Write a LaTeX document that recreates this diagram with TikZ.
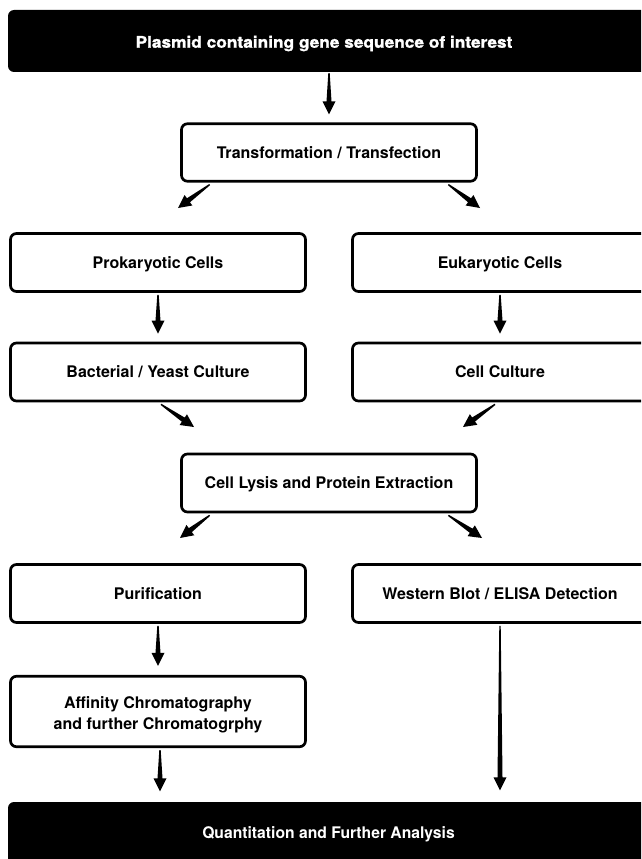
\documentclass[tikz,border=0pt]{standalone}
\usepackage{fontspec}
\usepackage{graphicx}
\setmainfont{TeX Gyre Heros}
\newfontfamily\heavyfont[BoldFeatures={FakeBold=1.3}]{TeX Gyre Heros}
\usetikzlibrary{calc}
\newcommand\tarrow[2]{%
  \path ($(#2)!13pt!(#1)$) coordinate (tmpH);
  \fill ($(#1)!0.7pt!90:(#2)$) -- ($(tmpH)!2.5pt!90:(#2)$) -- ($(tmpH)!6.5pt!90:(#2)$) -- (#2)
    -- ($(tmpH)!6.5pt!-90:(#2)$) -- ($(tmpH)!2.5pt!-90:(#2)$) -- ($(#1)!0.7pt!-90:(#2)$) -- cycle;
}
\tikzset{
  boxbase/.style={draw=black, fill=white, line width=2.7pt, rounded corners=6pt,
    minimum width=295pt, minimum height=58pt, inner sep=0pt, align=center,
    font=\fontsize{16}{21}\selectfont\bfseries},
  stepbox/.style={boxbase, text height=11.5pt, text depth=0pt},
  darkbox/.style={text=white, inner sep=0pt, align=center,
    text height=11.5pt, text depth=0pt,
    font=\fontsize{16}{18}\selectfont\bfseries},
}
\begin{document}
\begin{tikzpicture}[x=1pt,y=-1pt]
\useasboundingbox (0,0) rectangle (641,859);
\clip (0,0) rectangle (641,859);
\fill[white] (0,0) rectangle (641,859);

% black bars
\fill[black, rounded corners=6pt] (660,10) -- (8,10) -- (8,72) -- (660,72) -- cycle;
\fill[black, rounded corners=6pt] (660,802) -- (8,802) -- (8,880) -- (660,880) -- cycle;
\node[darkbox, minimum width=633pt, minimum height=62pt] (top) at (324,42)
  {\heavyfont\bfseries\scalebox{1.08}[1]{Plasmid containing gene sequence of interest}};
\node[darkbox, minimum width=641pt, minimum height=57pt] (bot) at (328.5,833)
  {\scalebox{0.98}[1]{Quantitation and Further Analysis}};

% boxes
\node[stepbox, minimum height=57.5pt] (trans) at (329,152.5) {Transformation / Transfection};
\node[stepbox] (prok) at (158,262.5) {Prokaryotic Cells};
\node[stepbox] (euk) at (500,262.5) {Eukaryotic Cells};
\node[stepbox] (bact) at (158,372) {Bacterial / Yeast Culture};
\node[stepbox] (cell) at (500,372) {Cell Culture};
\node[stepbox] (lysis) at (329,483) {Cell Lysis and Protein Extraction};
\node[stepbox] (pur) at (158,593.5) {Purification};
\node[stepbox] (west) at (500,593.5) {Western Blot / ELISA Detection};
\node[boxbase, minimum height=70.5pt] (aff) at (158,711.5)
  {\rule{0pt}{18.5pt}Affinity Chromatography\\and further Chromatogrphy};

% connector end points
\coordinate (a1s) at (top.south -| trans.north);
\coordinate (a1e) at ($(trans.north)+(0,-8)$);
\coordinate (a2s) at ($(trans.south west)+(29.5,2)$);
\coordinate (a2e) at (178,208);
\coordinate (a3s) at ($(trans.south east)+(-29.5,2)$);
\coordinate (a3e) at (480,208);
\coordinate (a4s) at ($(prok.south)+(0,2)$);
\coordinate (a4e) at ($(bact.north)+(0,-8)$);
\coordinate (a5s) at ($(euk.south)+(0,2)$);
\coordinate (a5e) at ($(cell.north)+(0,-8)$);
\coordinate (a6s) at ($(bact.south)+(3,2)$);
\coordinate (a6e) at (194,427);
\coordinate (a7s) at ($(cell.south)+(-5,2)$);
\coordinate (a7e) at (463,427);
\coordinate (a8s) at ($(lysis.south west)+(29.5,2)$);
\coordinate (a8e) at (180,538);
\coordinate (a9s) at ($(lysis.south east)+(-29.5,2)$);
\coordinate (a9e) at (482,538);
\coordinate (a10s) at ($(pur.south)+(0,2)$);
\coordinate (a10e) at ($(aff.north)+(0,-9)$);
\coordinate (a11s) at ($(west.south)+(0,2)$);
\coordinate (a11e) at ($(a11s |- bot.north)+(0,-14)$);
\coordinate (a12s) at ($(aff.south)+(2,2)$);
\coordinate (a12e) at ($(a12s |- bot.north)+(0,-13)$);

\tarrow{a1s}{a1e}
\tarrow{a2s}{a2e}
\tarrow{a3s}{a3e}
\tarrow{a4s}{a4e}
\tarrow{a5s}{a5e}
\tarrow{a6s}{a6e}
\tarrow{a7s}{a7e}
\tarrow{a8s}{a8e}
\tarrow{a9s}{a9e}
\tarrow{a10s}{a10e}
\tarrow{a11s}{a11e}
\tarrow{a12s}{a12e}
\end{tikzpicture}
\end{document}
